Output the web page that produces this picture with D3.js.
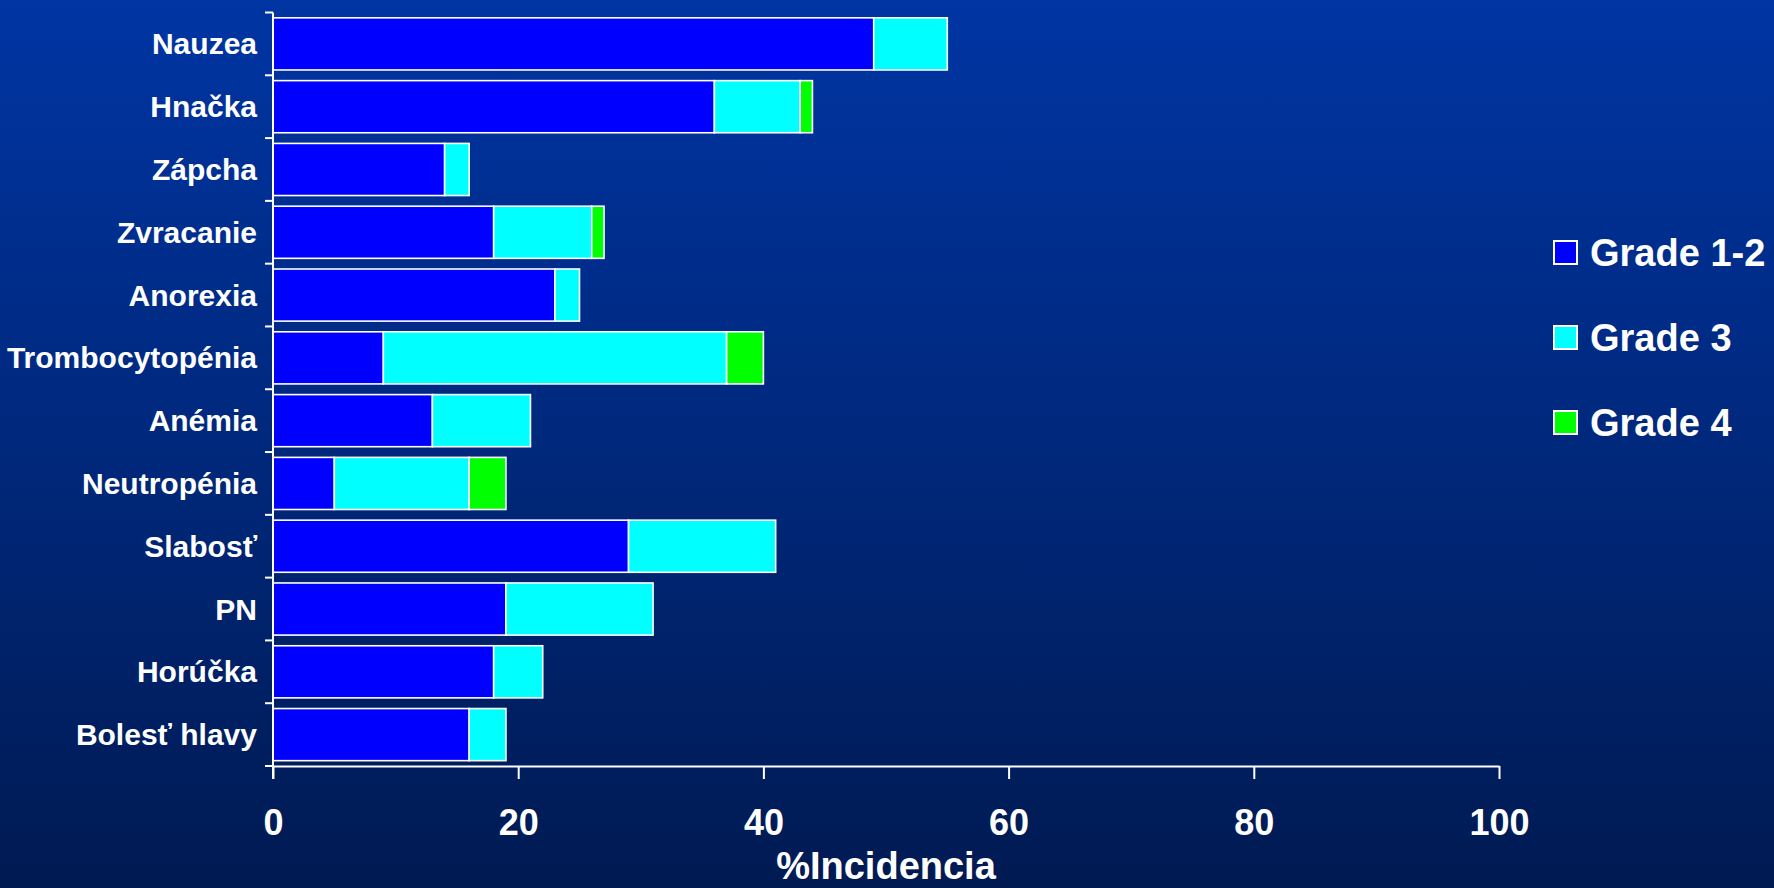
<!DOCTYPE html>
<html>
<head>
<meta charset="utf-8">
<script src="https://cdn.jsdelivr.net/npm/d3@7"></script>
<style>
  html, body { margin: 0; padding: 0; background: #00226e; }
  svg { display: block; }
  text { font-family: "Liberation Sans", Arial, sans-serif; font-weight: bold; fill: #ffffff; }
</style>
</head>
<body>
<svg id="chart" width="1774" height="888"></svg>
<script>
// Adverse events, % incidence by grade
const categories = ["Nauzea", "Hnačka", "Zápcha", "Zvracanie", "Anorexia", "Trombocytopénia",
                    "Anémia", "Neutropénia", "Slabosť", "PN", "Horúčka", "Bolesť hlavy"];
const grade12 = [49, 36, 14, 18, 23, 9, 13, 5, 29, 19, 18, 16];
const grade3  = [6, 7, 2, 8, 2, 28, 8, 11, 12, 12, 4, 3];
const grade4  = [0, 1, 0, 1, 0, 3, 0, 3, 0, 0, 0, 0];
const seriesNames = ["Grade 1-2", "Grade 3", "Grade 4"];
const seriesColors = ["#0000ff", "#00ffff", "#00ff00"];
const xTicks = [0, 20, 40, 60, 80, 100];
const xTitle = "%Incidencia";

const W = 1774, H = 888;
const plot = { left: 273, right: 1499, top: 12.5, bottom: 766 };

const svg = d3.select("#chart");

// background gradient
const defs = svg.append("defs");
const grad = defs.append("linearGradient").attr("id", "bg").attr("x1", 0).attr("y1", 0).attr("x2", 0).attr("y2", 1);
grad.append("stop").attr("offset", "0%").attr("stop-color", "#0035a3");
grad.append("stop").attr("offset", "50%").attr("stop-color", "#00287c");
grad.append("stop").attr("offset", "100%").attr("stop-color", "#001a52");
svg.append("rect").attr("width", W).attr("height", H).attr("fill", "url(#bg)");

const x = d3.scaleLinear().domain([0, 100]).range([plot.left, plot.right]);
const y = d3.scaleBand().domain(categories).range([plot.top, plot.bottom]).paddingInner(0.17).paddingOuter(0.085);

// stacked data
const rows = categories.map((c, i) => ({ cat: c, g12: grade12[i], g3: grade3[i], g4: grade4[i] }));
const stack = d3.stack().keys(["g12", "g3", "g4"])(rows);

const gBars = svg.append("g");
stack.forEach((layer, li) => {
  gBars.append("g")
    .selectAll("rect")
    .data(layer.filter(d => d[1] - d[0] > 0))
    .join("rect")
    .attr("x", d => x(d[0]))
    .attr("y", d => y(d.data.cat))
    .attr("width", d => x(d[1]) - x(d[0]))
    .attr("height", y.bandwidth())
    .attr("fill", seriesColors[li])
    .attr("stroke", "#ffffff")
    .attr("stroke-width", 1.6);
});

// x axis
const xAxis = d3.axisBottom(x).tickValues(xTicks).tickSize(13).tickPadding(30).tickSizeOuter(0);
const gx = svg.append("g").attr("transform", `translate(0,${plot.bottom})`).call(xAxis);
gx.select(".domain").attr("stroke", "#fff").attr("stroke-width", 2);
gx.selectAll(".tick line").attr("stroke", "#fff").attr("stroke-width", 2);
gx.selectAll(".tick text").attr("font-size", 36).attr("fill", "#fff")
  .attr("font-family", "Liberation Sans, Arial, sans-serif").attr("font-weight", "bold");

// y axis: line plus boundary ticks between categories
const boundaries = d3.range(categories.length + 1).map(i => plot.top + i * (plot.bottom - plot.top) / categories.length);
svg.append("line").attr("x1", plot.left).attr("x2", plot.left)
  .attr("y1", plot.top).attr("y2", plot.bottom + 13)
  .attr("stroke", "#fff").attr("stroke-width", 2);
svg.append("g").selectAll("line").data(boundaries).join("line")
  .attr("x1", plot.left - 8).attr("x2", plot.left)
  .attr("y1", d => d).attr("y2", d => d)
  .attr("stroke", "#fff").attr("stroke-width", 2);

// category labels
svg.append("g").selectAll("text").data(categories).join("text")
  .attr("x", plot.left - 16)
  .attr("y", d => y(d) + y.bandwidth() / 2)
  .attr("dy", "0.35em")
  .attr("text-anchor", "end")
  .attr("font-size", 30)
  .text(d => d);

// axis title
svg.append("text")
  .attr("x", (plot.left + plot.right) / 2)
  .attr("y", 879)
  .attr("text-anchor", "middle")
  .attr("font-size", 38)
  .text(xTitle);

// legend
const legend = svg.append("g").attr("transform", "translate(1554,241)");
seriesNames.forEach((name, i) => {
  const g = legend.append("g").attr("transform", `translate(0,${i * 85})`);
  g.append("rect").attr("width", 23).attr("height", 23)
    .attr("fill", seriesColors[i]).attr("stroke", "#fff").attr("stroke-width", 2);
  g.append("text").attr("x", 36).attr("y", 11.5).attr("dy", "0.35em")
    .attr("font-size", 38).text(name);
});
</script>
</body>
</html>
